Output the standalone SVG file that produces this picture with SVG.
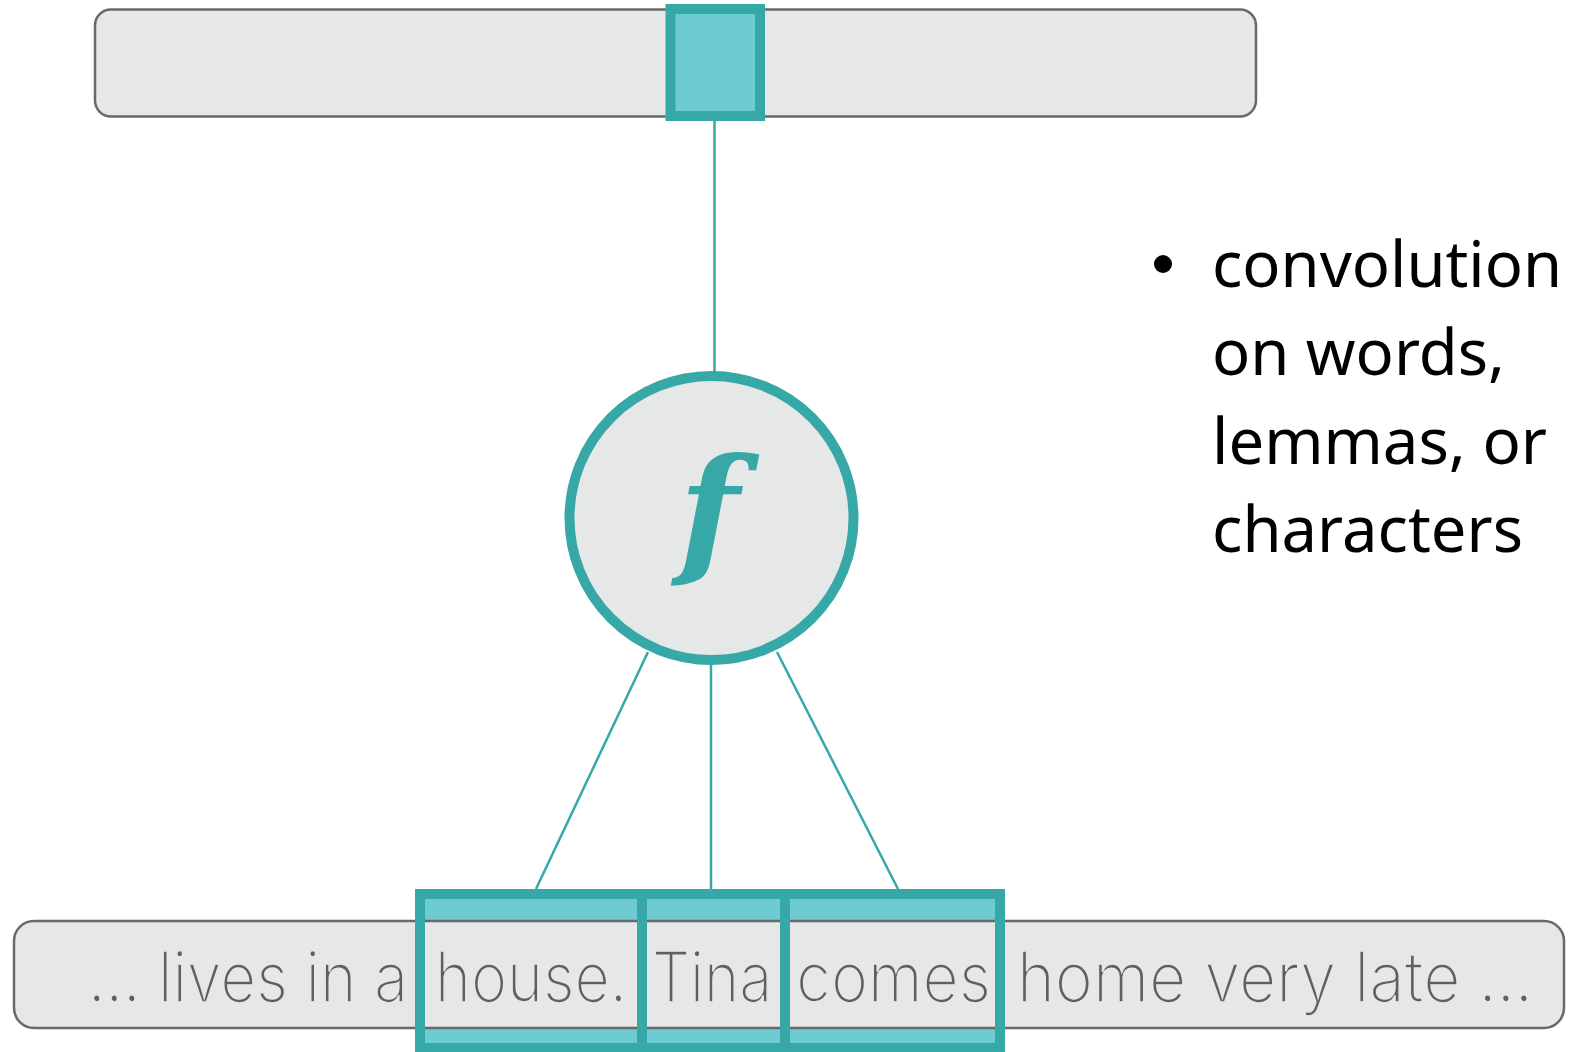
<svg xmlns="http://www.w3.org/2000/svg" width="1570" height="1052" viewBox="0 0 1570 1052">
<style>
.bar{fill:#e6e7e7;stroke:#686a6a;stroke-width:2.5}
.conn line{stroke:#37a8a8;stroke-width:2.5}
.win{fill:none;stroke:#37a8a8;stroke-width:10}
.wfill{fill:#6ecbd2}
.word{font-family:"Inter","Lato","Open Sans",sans-serif;font-weight:300;font-size:70px;fill:#5e6060;stroke:#e6e7e7;stroke-width:1.7}
.note{font-family:"Noto Sans","Open Sans","Liberation Sans",sans-serif;font-size:64px;fill:#000}
.fn{font-family:"DejaVu Serif",serif;font-style:italic;font-weight:700;font-size:140px;fill:#37a8a8}
</style>
<rect width="1570" height="1052" fill="#ffffff"/>
<g id="top-bar">
<rect class="bar" x="95" y="9.5" width="1161" height="107" rx="16"/>
<rect x="670.5" y="9" width="89.5" height="107" fill="#6ecbd2" stroke="#37a8a8" stroke-width="10"/>
</g>
<g id="connectors" class="conn">
<line x1="714.5" y1="121" x2="714.5" y2="373"/>
<line x1="648" y1="652" x2="536" y2="889"/>
<line x1="711" y1="664" x2="711" y2="889"/>
<line x1="777" y1="652" x2="898" y2="889"/>
</g>
<g id="f-node">
<circle cx="711.5" cy="518" r="142" fill="#e6e7e7" stroke="#37a8a8" stroke-width="10"/>
<text class="fn" x="709" y="559" text-anchor="middle">f</text>
</g>
<g id="input-sequence">
<rect class="wfill" x="420" y="894" width="580" height="154"/>
<rect class="bar" x="14" y="921" width="1550" height="107" rx="20"/>
<text class="word" x="88" y="1002" textLength="320" lengthAdjust="spacingAndGlyphs">... lives in a</text>
<text class="word" x="435" y="1002" textLength="192" lengthAdjust="spacingAndGlyphs">house.</text>
<text class="word" x="652" y="1002" textLength="120" lengthAdjust="spacingAndGlyphs">Tina</text>
<text class="word" x="796" y="1002" textLength="195" lengthAdjust="spacingAndGlyphs">comes</text>
<text class="word" x="1017" y="1002" textLength="516" lengthAdjust="spacingAndGlyphs">home very late ...</text>
</g>
<g id="window-house"><rect class="win" x="420" y="894" width="222" height="154"/></g>
<g id="window-tina"><rect class="win" x="642" y="894" width="143" height="154"/></g>
<g id="window-comes"><rect class="win" x="785" y="894" width="215" height="154"/></g>
<g id="note">
<circle cx="1163" cy="264" r="9" fill="#000"/>
<text class="note" x="1212" y="287" textLength="350" lengthAdjust="spacingAndGlyphs">convolution</text>
<text class="note" x="1212" y="375" textLength="293" lengthAdjust="spacingAndGlyphs">on words,</text>
<text class="note" x="1212" y="464" textLength="335" lengthAdjust="spacingAndGlyphs">lemmas, or</text>
<text class="note" x="1212" y="552" textLength="311" lengthAdjust="spacingAndGlyphs">characters</text>
</g>
</svg>
